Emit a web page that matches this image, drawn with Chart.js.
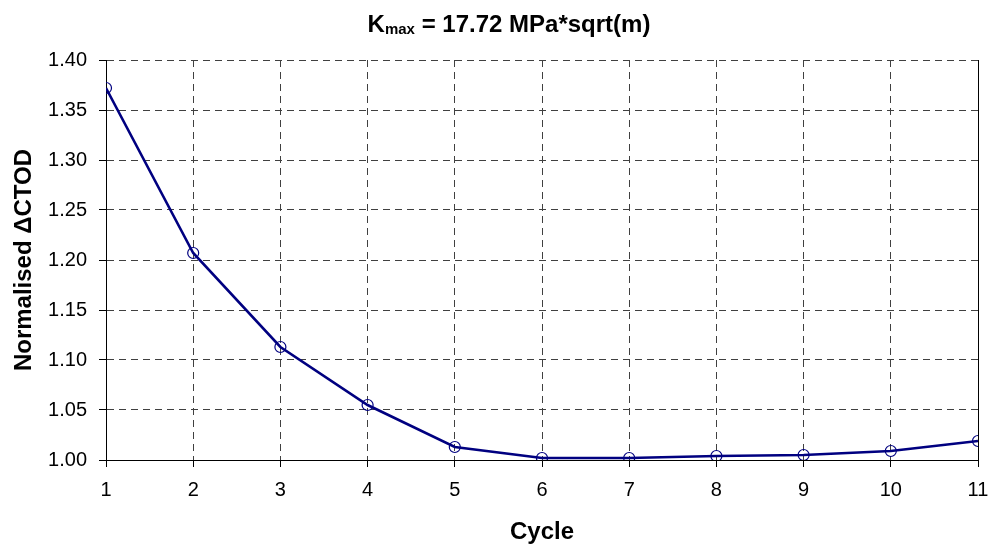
<!DOCTYPE html>
<html>
<head>
<meta charset="utf-8">
<script src="https://cdn.jsdelivr.net/npm/chart.js@4.4.1/dist/chart.umd.min.js"></script>
<style>
  html, body { margin: 0; padding: 0; background: #ffffff; }
  canvas { display: block; }
</style>
</head>
<body>
<canvas id="grafico" width="994" height="548"></canvas>
<script>
// cycle number on x, normalised delta CTOD on y
const ciclos = [1, 2, 3, 4, 5, 6, 7, 8, 9, 10, 11];
const ctodNormalizado = [1.372, 1.207, 1.113, 1.055, 1.013, 1.002, 1.002, 1.004, 1.005, 1.009, 1.019];

const yMin = 1.00;
const yMax = 1.40;
const yPasso = 0.05;

const titulo = { base: "K", sub: "max", resto: " = 17.72 MPa*sqrt(m)" };

const fonte = "'Liberation Sans', Arial, sans-serif";

// title with subscript, plus the solid right-hand frame line
const extras = {
    id: "extras",
    afterDraw(chart) {
        const ctx = chart.ctx;
        const area = chart.chartArea;

        ctx.save();
        ctx.strokeStyle = "#000000";
        ctx.lineWidth = 1;
        ctx.beginPath();
        ctx.moveTo(Math.round(area.right) + 0.5, area.top);
        ctx.lineTo(Math.round(area.right) + 0.5, area.bottom);
        ctx.stroke();

        ctx.fillStyle = "#000000";
        ctx.textBaseline = "alphabetic";
        const fGrande = "bold 24px " + fonte;
        const fPequena = "bold 15px " + fonte;

        ctx.font = fGrande;
        const w1 = ctx.measureText(titulo.base).width;
        const w3 = ctx.measureText(titulo.resto).width;
        ctx.font = fPequena;
        const w2 = ctx.measureText(titulo.sub).width;

        let x = 509 - (w1 + w2 + w3) / 2;
        const y = 32;
        ctx.textAlign = "left";
        ctx.font = fGrande;
        ctx.fillText(titulo.base, x, y);
        x += w1;
        ctx.font = fPequena;
        ctx.fillText(titulo.sub, x, y + 2);
        x += w2;
        ctx.font = fGrande;
        ctx.fillText(titulo.resto, x, y);
        ctx.restore();
    }
};

const pontos = ciclos.map((c, i) => ({ x: c, y: ctodNormalizado[i] }));

new Chart(document.getElementById("grafico"), {
    type: "line",
    data: {
        datasets: [{
            data: pontos,
            borderColor: "#000080",
            borderWidth: 2.6,
            pointRadius: 5.5,
            pointBorderWidth: 1.2,
            pointBorderColor: "#000080",
            pointBackgroundColor: "rgba(0,0,0,0)",
            tension: 0,
            fill: false
        }]
    },
    plugins: [extras],
    options: {
        responsive: false,
        devicePixelRatio: 1,
        animation: false,
        layout: {
            padding: { top: 60, right: 16, left: 0, bottom: 0 }
        },
        plugins: {
            legend: { display: false },
            tooltip: { enabled: false },
            title: { display: false }
        },
        scales: {
            x: {
                type: "linear",
                min: 1,
                max: 11,
                afterFit: scale => {
                    scale.height = 88;
                    scale.paddingLeft = 0;
                    scale.paddingRight = 0;
                },
                afterBuildTicks: scale => {
                    scale.ticks = ciclos.map(v => ({ value: v }));
                },
                ticks: {
                    color: "#000000",
                    padding: 11,
                    font: { family: fonte, size: 20 },
                    maxRotation: 0,
                    callback: v => String(v)
                },
                grid: {
                    color: "#404040",
                    lineWidth: 1,
                    drawTicks: true,
                    tickLength: 7,
                    tickColor: "#000000",
                    tickBorderDash: []
                },
                border: {
                    display: true,
                    color: "#000000",
                    width: 1,
                    dash: [7, 5]
                },
                title: {
                    display: true,
                    text: "Cycle",
                    color: "#000000",
                    font: { family: fonte, size: 24, weight: "bold" },
                    padding: { top: 0, bottom: 1 }
                }
            },
            y: {
                min: yMin,
                max: yMax,
                afterFit: scale => { scale.width = 106; },
                ticks: {
                    stepSize: yPasso,
                    color: "#000000",
                    padding: 12,
                    font: { family: fonte, size: 20 },
                    callback: v => Number(v).toFixed(2)
                },
                grid: {
                    color: "#404040",
                    lineWidth: 1,
                    drawTicks: true,
                    tickLength: 7,
                    tickColor: "#000000",
                    tickBorderDash: []
                },
                border: {
                    display: true,
                    color: "#000000",
                    width: 1,
                    dash: [7, 5]
                },
                title: {
                    display: true,
                    text: "Normalised \u0394CTOD",
                    color: "#000000",
                    font: { family: fonte, size: 24, weight: "bold" },
                    padding: { top: 10, bottom: 0 }
                }
            }
        }
    }
});
</script>
</body>
</html>
